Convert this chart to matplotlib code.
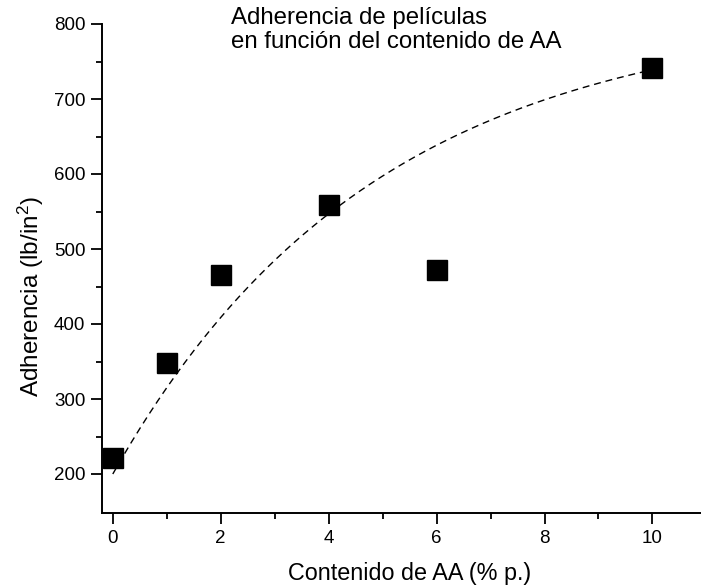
import numpy as np
import matplotlib
matplotlib.use("Agg")
import matplotlib.pyplot as plt
from matplotlib.ticker import FixedLocator

plt.rcParams["font.family"] = ["Liberation Sans", "DejaVu Sans"]
plt.rcParams["mathtext.fontset"] = "custom"
plt.rcParams["mathtext.rm"] = "Liberation Sans"
plt.rcParams["mathtext.it"] = "Liberation Sans:italic"
plt.rcParams["mathtext.bf"] = "Liberation Sans:bold"

# Measured adhesion vs. AA content
aa_content = [0, 1, 2, 4, 6, 10]
adhesion = [221, 348, 466, 559, 472, 741]

# Trend curve: y = A - B * exp(-x / t)
trend_A, trend_B, trend_t = 817.6, 617.6, 4.85

x_ticks = [0, 2, 4, 6, 8, 10]
x_minor = [1, 3, 5, 7, 9]
y_ticks = [200, 300, 400, 500, 600, 700, 800]
y_minor = [250, 350, 450, 550, 650, 750]

W, H = 701, 588
fig = plt.figure(figsize=(W / 100, H / 100), dpi=100)
ax = fig.add_axes([102 / W, 75 / H, 599 / W, 489 / H])

xs = np.linspace(aa_content[0], aa_content[-1], 300)
ax.plot(xs, trend_A - trend_B * np.exp(-xs / trend_t), color="black",
        lw=1.0, dashes=(5, 3.5), zorder=2)
ax.plot(aa_content, adhesion, linestyle="none", marker="s", markersize=15,
        color="black", zorder=3, clip_on=False)

ax.set_xlim(-0.2, 10.9)
ax.set_ylim(148, 800)

ax.xaxis.set_major_locator(FixedLocator(x_ticks))
ax.xaxis.set_minor_locator(FixedLocator(x_minor))
ax.yaxis.set_major_locator(FixedLocator(y_ticks))
ax.yaxis.set_minor_locator(FixedLocator(y_minor))
ax.set_xticklabels([str(v) for v in x_ticks])
ax.set_yticklabels([str(v) for v in y_ticks])

for s in ("top", "right"):
    ax.spines[s].set_visible(False)
for s in ("left", "bottom"):
    ax.spines[s].set_linewidth(1.4)

ax.tick_params(which="major", direction="out", length=8, width=1.3,
               labelsize=13.5, pad=4)
ax.tick_params(which="minor", direction="out", length=4, width=1.3)

ax.set_xlabel("Contenido de AA (% p.)", fontsize=16.8)
ax.set_ylabel("Adherencia (lb/in$^{2}$)", fontsize=17.5)
ax.xaxis.set_label_coords(0.514, -0.10)
ax.yaxis.set_label_coords(-0.093, 0.443)

fig.text(231 / W, 1 - 48.5 / H,
         "Adherencia de películas\nen función del contenido de AA",
         ha="left", va="baseline", fontsize=17.3, linespacing=1.13)

fig.savefig("out.png", dpi=100)
